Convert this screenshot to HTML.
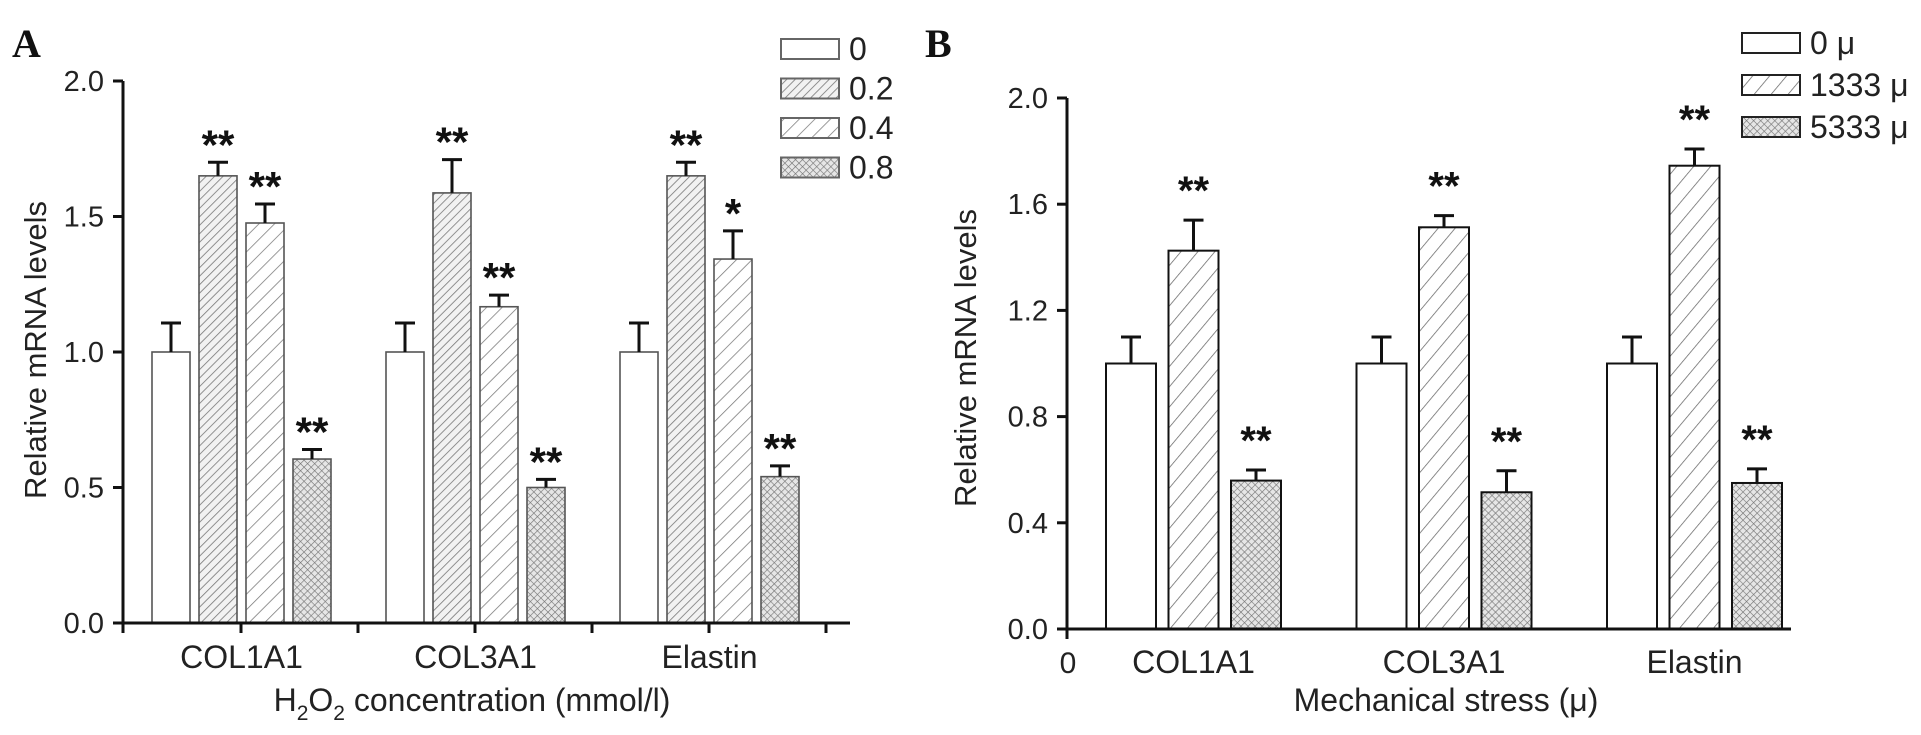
<!DOCTYPE html>
<html><head><meta charset="utf-8"><style>
html,body{margin:0;padding:0;background:#fff;}
svg{display:block;font-family:"Liberation Sans",Arial,sans-serif;}
</style></head><body>
<svg id="fig" width="1921" height="735" viewBox="0 0 1921 735" xmlns="http://www.w3.org/2000/svg">
<defs>
<pattern id="hatchDense" patternUnits="userSpaceOnUse" width="6" height="6" patternTransform="rotate(45)"><rect width="6" height="6" fill="#f2f2f2"/><line x1="0" y1="0" x2="0" y2="6" stroke="#777" stroke-width="1.6"/></pattern>
<pattern id="hatchSparse" patternUnits="userSpaceOnUse" width="11" height="11" patternTransform="rotate(45)"><rect width="11" height="11" fill="#fff"/><line x1="0" y1="0" x2="0" y2="11" stroke="#777" stroke-width="1.5"/></pattern>
<pattern id="hatchB" patternUnits="userSpaceOnUse" width="13" height="13" patternTransform="rotate(40)"><rect width="13" height="13" fill="#fff"/><line x1="0" y1="0" x2="0" y2="13" stroke="#666" stroke-width="1.5"/></pattern>
<pattern id="cross" patternUnits="userSpaceOnUse" width="5" height="5" patternTransform="rotate(45)"><rect width="5" height="5" fill="#e6e6e6"/><path d="M0 0H5M0 0V5" stroke="#777" stroke-width="1.3"/></pattern>
</defs>
<g id="panelA"></g>
<g id="panelB"></g>
</svg>
<script>
// ---- Panel A data ----
const catsA = ["COL1A1","COL3A1","Elastin"];
const seriesA = ["0","0.2","0.4","0.8"];
const valsA = [[1.0,1.65,1.476,0.605],[1.0,1.587,1.167,0.50],[1.0,1.65,1.343,0.54]];
const errsA = [[0.107,0.05,0.07,0.035],[0.107,0.123,0.043,0.03],[0.107,0.05,0.104,0.04]];
const starsA = [["","**","**","**"],["","**","**","**"],["","**","*","**"]];
const ticksA = ["0.0","0.5","1.0","1.5","2.0"];
const tickValsA = [0,0.5,1.0,1.5,2.0];
// ---- Panel B data ----
const catsB = ["COL1A1","COL3A1","Elastin"];
const seriesB = ["0 \u03bc","1333 \u03bc","5333 \u03bc"];
const valsB = [[1.0,1.425,0.559],[1.0,1.513,0.515],[1.0,1.745,0.55]];
const errsB = [[0.10,0.115,0.04],[0.10,0.044,0.081],[0.10,0.063,0.053]];
const starsB = [["","**","**"],["","**","**"],["","**","**"]];
const ticksB = ["0.0","0.4","0.8","1.2","1.6","2.0"];
const tickValsB = [0,0.4,0.8,1.2,1.6,2.0];

const NS="http://www.w3.org/2000/svg";
function mk(parent,tag,attrs,text){const e=document.createElementNS(NS,tag);for(const k in attrs)e.setAttribute(k,attrs[k]);if(text!==undefined)e.textContent=text;parent.appendChild(e);return e;}

function drawPanel(g,cfg){
  const y=v=>cfg.y0-(v/cfg.ymax)*(cfg.y0-cfg.yTop);
  const x=(gi,si)=>cfg.firstBar+gi*cfg.groupStep+si*cfg.barStep;
  cfg.vals.forEach((row,gi)=>row.forEach((v,si)=>{
    const bx=x(gi,si);
    const r=mk(g,'rect',{x:bx,y:y(v),width:cfg.barW,height:cfg.y0-y(v),fill:cfg.fills[si],stroke:cfg.barStroke,'stroke-width':cfg.barSW});
    
    
    const cx=bx+cfg.barW/2, et=y(v+cfg.errs[gi][si]);
    const e=mk(g,'path',{d:`M${cx} ${y(v)}V${et}M${cx-cfg.capW/2} ${et}H${cx+cfg.capW/2}`,stroke:'#111','stroke-width':3,fill:'none'});
    
    
    const s=cfg.stars[gi][si];
    if(s){const t=mk(g,'text',{x:cx,y:et-cfg.starGap,'text-anchor':'middle','font-size':cfg.starSize,'font-weight':'bold',fill:'#111'},s);
      
      }
  }));
  const ya=mk(g,'line',{x1:cfg.axX,y1:cfg.yTop,x2:cfg.axX,y2:cfg.y0+cfg.ext,stroke:'#111','stroke-width':3});
  
  
  const xa=mk(g,'line',{x1:cfg.axX-9,y1:cfg.y0,x2:cfg.axEnd,y2:cfg.y0,stroke:'#111','stroke-width':3});
  
  
  cfg.tickVals.forEach((tv,i)=>{
    mk(g,'line',{x1:cfg.axX-10,y1:y(tv),x2:cfg.axX,y2:y(tv),stroke:'#111','stroke-width':3});
    const t=mk(g,'text',{x:cfg.axX-19,y:y(tv)+10,'text-anchor':'end','font-size':cfg.tickSize,fill:'#222'},cfg.ticks[i]);
    
    
  });
  cfg.xTicks.forEach(xt=>mk(g,'line',{x1:xt,y1:cfg.y0,x2:xt,y2:cfg.y0+10,stroke:'#111','stroke-width':3}));
  cfg.cats.forEach((c,gi)=>{
    const cx=x(gi,0)+((cfg.vals[gi].length-1)*cfg.barStep+cfg.barW)/2;
    const t=mk(g,'text',{x:cx,y:cfg.y0+cfg.catDy,'text-anchor':'middle','font-size':cfg.catSize,fill:'#222'},c);
    
    
  });
  cfg.series.forEach((s,si)=>{
    const ly=cfg.legY+si*cfg.legStep;
    const r=mk(g,'rect',{x:cfg.legX,y:ly-10,width:58,height:20,fill:cfg.fills[si],stroke:cfg.legStroke,'stroke-width':2});
    
    
    const t=mk(g,'text',{x:cfg.legX+68,y:ly+11,'font-size':cfg.legSize,fill:'#222'},s);
    
    
  });
}

drawPanel(document.getElementById('panelA'),{
  cats:catsA,series:seriesA,vals:valsA,errs:errsA,stars:starsA,ticks:ticksA,tickVals:tickValsA,
  y0:623,yTop:81,ymax:2.0,firstBar:152,groupStep:234,barStep:47,barW:38,capW:20,
  axX:123,axEnd:850,ext:10,xTicks:[241,358,475,592,709,826],
  fills:['#fff','url(#hatchDense)','url(#hatchSparse)','url(#cross)'],barStroke:'#555',barSW:1.6,
  starGap:3,starSize:42,tickSize:29,catSize:32,catDy:45,legX:781,legY:49,legStep:39.5,legSize:32,legStroke:'#666'
});
drawPanel(document.getElementById('panelB'),{
  cats:catsB,series:seriesB,vals:valsB,errs:errsB,stars:starsB,ticks:ticksB,tickVals:tickValsB,
  y0:629,yTop:98,ymax:2.0,firstBar:1106,groupStep:250.5,barStep:62.5,barW:50,capW:20,
  axX:1067,axEnd:1791,ext:10,xTicks:[],
  fills:['#fff','url(#hatchB)','url(#cross)'],barStroke:'#111',barSW:2,
  starGap:16,starSize:40,tickSize:29,catSize:32,catDy:44,legX:1742,legY:43,legStep:42,legSize:32,legStroke:'#222'
});
const gA=document.getElementById('panelA'), gB=document.getElementById('panelB');
let t;
t=mk(gA,'text',{x:12,y:57,'font-family':'Liberation Serif,serif','font-weight':'bold','font-size':40,fill:'#111'},'A');


t=mk(gA,'text',{x:0,y:0,transform:'translate(46,350) rotate(-90)','text-anchor':'middle','font-size':31,fill:'#222'},'Relative mRNA levels');


t=mk(gA,'text',{x:472,y:711,'text-anchor':'middle','font-size':32,fill:'#222'});


t.innerHTML='H<tspan dy="9" font-size="21">2</tspan><tspan dy="-9">O</tspan><tspan dy="9" font-size="21">2</tspan><tspan dy="-9"> concentration (mmol/l)</tspan>';
t=mk(gB,'text',{x:925,y:57,'font-family':'Liberation Serif,serif','font-weight':'bold','font-size':40,fill:'#111'},'B');


t=mk(gB,'text',{x:0,y:0,transform:'translate(976,358) rotate(-90)','text-anchor':'middle','font-size':31,fill:'#222'},'Relative mRNA levels');


t=mk(gB,'text',{x:1068,y:673,'text-anchor':'middle','font-size':30,fill:'#222'},'0');


t=mk(gB,'text',{x:1446,y:711,'text-anchor':'middle','font-size':32,fill:'#222'},'Mechanical stress (\u03bc)');


</script>
</body></html>
